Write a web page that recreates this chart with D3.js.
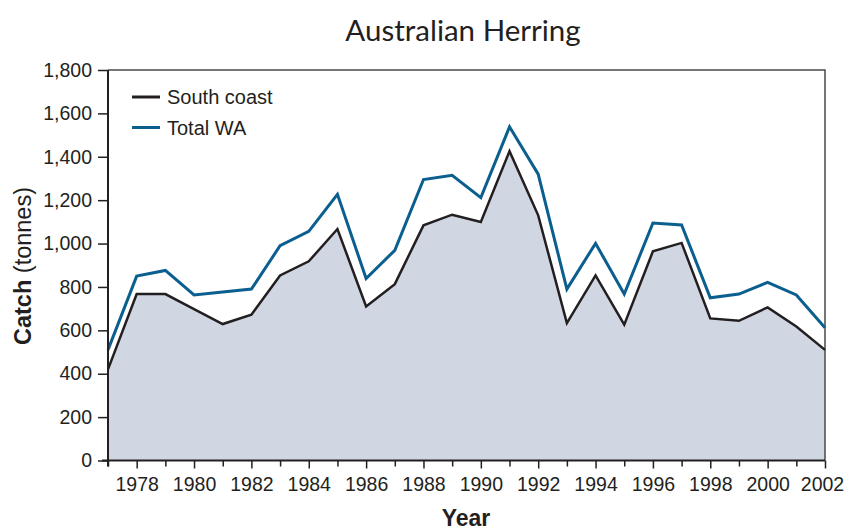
<!DOCTYPE html>
<html>
<head>
<meta charset="utf-8">
<script src="https://cdn.jsdelivr.net/npm/d3@7"></script>
<style>
	body { margin: 0; background: #fff; }
	svg text { fill: #231f20; font-family: "Liberation Sans", Arial, sans-serif; }
</style>
</head>
<body>
<svg class="catch-chart" width="846" height="530"></svg>
<script>
var years = [1977, 1978, 1979, 1980, 1981, 1982, 1983, 1984, 1985, 1986, 1987, 1988, 1989,
	1990, 1991, 1992, 1993, 1994, 1995, 1996, 1997, 1998, 1999, 2000, 2001, 2002];
var southCoast = [420, 767, 767, 698, 629, 672, 853, 918, 1067, 710, 813, 1084, 1133,
	1099, 1426, 1130, 633, 853, 626, 964, 1003, 655, 644, 706, 618, 510];
var totalWA = [510, 850, 876, 763, 777, 790, 990, 1056, 1227, 839, 969, 1295, 1315,
	1212, 1538, 1320, 790, 1001, 767, 1095, 1086, 750, 767, 821, 763, 612];
var yTicks = [0, 200, 400, 600, 800, 1000, 1200, 1400, 1600, 1800];
var legendNames = ['South coast', 'Total WA'];
var legendColors = ['#231f20', '#0b5f8f'];

var chart = {
	initialize: function(){
		var self = this;
		self._render_view();
		return self;
	},
	_render_view: function(){
		var left = 108, right = 825, top = 70, bottom = 460.5;
		var svg = d3.select('svg.catch-chart');

		var x = d3.scaleLinear().domain([1977, 2002]).range([left, right]);
		var y = d3.scaleLinear().domain([0, 1800]).range([bottom, top]);

		var rows = years.map(function(d, i){
			return {year: d, south: southCoast[i], total: totalWA[i]};
		});

		// shaded area under south coast
		svg.append('path')
			.datum(rows)
			.attr('fill', '#d0d7e3')
			.attr('d', d3.area()
				.x(function(d){ return x(d.year); })
				.y0(y(0))
				.y1(function(d){ return y(d.south); }));

		// frame top + right
		svg.append('path')
			.attr('d', 'M' + left + ',' + top + 'H' + right + 'V' + bottom)
			.attr('fill', 'none')
			.attr('stroke', '#4a4a4a')
			.attr('stroke-width', 1.5);

		svg.append('path')
			.datum(rows)
			.attr('fill', 'none')
			.attr('stroke', legendColors[1])
			.attr('stroke-width', 3)
			.attr('d', d3.line()
				.x(function(d){ return x(d.year); })
				.y(function(d){ return y(d.total); }));

		svg.append('path')
			.datum(rows)
			.attr('fill', 'none')
			.attr('stroke', legendColors[0])
			.attr('stroke-width', 2.5)
			.attr('d', d3.line()
				.x(function(d){ return x(d.year); })
				.y(function(d){ return y(d.south); }));

		// y axis
		var yAxis = svg.append('g')
			.attr('transform', 'translate(' + left + ',0)')
			.call(d3.axisLeft(y).tickValues(yTicks).tickSize(10).tickPadding(6)
				.tickFormat(d3.format(',')));
		yAxis.selectAll('text').style('font-size', '19.5px');

		// x axis
		var xAxis = svg.append('g')
			.attr('transform', 'translate(0,' + bottom + ')')
			.call(d3.axisBottom(x).tickValues(years).tickSize(7).tickPadding(10)
				.tickFormat(function(d){ return d % 2 === 0 ? d : ''; }));
		xAxis.selectAll('text').style('font-size', '19.5px');
		xAxis.selectAll('.tick text')
			.attr('dx', function(d){ return d === 2002 ? -3 : 0; });
		xAxis.selectAll('.tick line')
			.attr('y2', function(d){ return d % 2 === 0 ? 8 : 6; });

		svg.selectAll('.domain').remove();
		svg.selectAll('.tick line').attr('stroke', '#231f20').attr('stroke-width', 1.5);
		svg.append('line')
			.attr('x1', left).attr('x2', left)
			.attr('y1', top).attr('y2', bottom + 6)
			.attr('stroke', '#231f20').attr('stroke-width', 2);
		svg.append('line')
			.attr('x1', left - 6).attr('x2', right)
			.attr('y1', bottom).attr('y2', bottom)
			.attr('stroke', '#231f20').attr('stroke-width', 2);

		// legend
		var legend = svg.selectAll('.legend-item')
			.data(legendNames)
			.enter()
			.append('g')
			.attr('class', 'legend-item')
			.attr('transform', function(d, i){
				return 'translate(132,' + (97 + i * 30.5) + ')';
			});
		legend.append('line')
			.attr('x1', 0).attr('x2', 28)
			.attr('stroke', function(d, i){ return legendColors[i]; })
			.attr('stroke-width', 3);
		legend.append('text')
			.attr('x', 35)
			.attr('y', 7)
			.style('font-size', '20px')
			.text(function(d){ return d; });

		// titles
		svg.append('text')
			.attr('x', 463)
			.attr('y', 41)
			.attr('text-anchor', 'middle')
			.style('font-family', 'Lato, sans-serif')
			.style('font-size', '29.5px')
			.text('Australian Herring');

		svg.append('text')
			.attr('x', 466)
			.attr('y', 526)
			.attr('text-anchor', 'middle')
			.style('font-size', '23px')
			.style('font-weight', 'bold')
			.text('Year');

		var yTitle = svg.append('text')
			.attr('transform', 'translate(31,266) rotate(-90)')
			.attr('text-anchor', 'middle')
			.style('font-size', '23.5px');
		yTitle.append('tspan').style('font-weight', 'bold').text('Catch');
		yTitle.append('tspan').text(' (tonnes)');
	}
};

chart.initialize();
</script>
</body>
</html>
